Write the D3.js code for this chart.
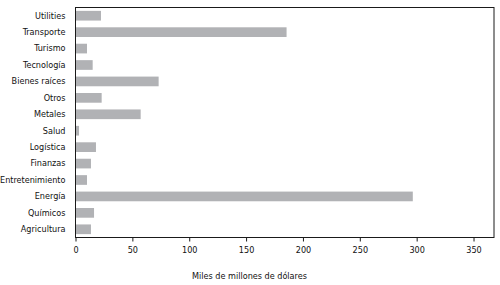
<!DOCTYPE html>
<html>
<head>
<meta charset="utf-8">
<script src="https://cdn.jsdelivr.net/npm/d3@7"></script>
<style>
  body { margin: 0; background: #fff; }
  text { font-family: "DejaVu Sans Condensed", "DejaVu Sans", sans-serif; fill: #111; }
</style>
</head>
<body>
<div class="chart"></div>
<script>
// data ------------------------------------------------
var sectors = ["Utilities", "Transporte", "Turismo", "Tecnología", "Bienes raíces", "Otros",
  "Metales", "Salud", "Logística", "Finanzas", "Entretenimiento", "Energía", "Químicos", "Agricultura"];
var values = [22.4, 185.6, 10.1, 15.1, 73.1, 23, 57.3, 3.1, 18, 13.6, 10.1, 296.6, 16.3, 13.6];
var xTicks = [0, 50, 100, 150, 200, 250, 300, 350];
var xTitle = "Miles de millones de dólares";

// svg setup -------------------------------------------
var svgWidth = 500;
var svgHeight = 285;
var margin = {top: 7.5, right: 6, bottom: 47.5, left: 75.5};
var chartWidth = svgWidth - margin.left - margin.right;
var chartHeight = svgHeight - margin.top - margin.bottom;
var fontFamily = "'DejaVu Sans Condensed', 'DejaVu Sans', sans-serif";

var svg = d3.select(".chart")
  .append("svg")
  .attr("width", svgWidth)
  .attr("height", svgHeight);

var chartGroup = svg.append("g")
  .attr("transform", `translate(${margin.left}, ${margin.top})`);

// scales
var xScale = d3.scaleLinear()
  .domain([0, 368])
  .range([0, chartWidth]);

var yScale = d3.scaleBand()
  .domain(sectors)
  .range([0, chartHeight])
  .paddingInner(0.41)
  .paddingOuter(0.205);

// bars
chartGroup.selectAll("rect.bar")
  .data(sectors)
  .enter()
  .append("rect")
  .attr("class", "bar")
  .attr("x", 0)
  .attr("y", d => yScale(d))
  .attr("width", (d, i) => xScale(values[i]))
  .attr("height", yScale.bandwidth())
  .attr("fill", "#b1b2b5");

// frame
chartGroup.append("rect")
  .attr("x", 0)
  .attr("y", 0)
  .attr("width", chartWidth)
  .attr("height", chartHeight)
  .attr("fill", "none")
  .attr("stroke", "#1a1a1a")
  .attr("stroke-width", 1);

// x axis
var bottomAxis = d3.axisBottom(xScale)
  .tickValues(xTicks)
  .tickSize(4)
  .tickSizeOuter(0);

var xAxis = chartGroup.append("g")
  .attr("transform", `translate(0, ${chartHeight})`)
  .call(bottomAxis);
xAxis.select(".domain").remove();
xAxis.selectAll("line").attr("stroke", "#1a1a1a");
xAxis.selectAll("text")
  .attr("y", 9)
  .style("font-size", "9px")
  .style("font-family", fontFamily)
  .attr("fill", "#111");

// y axis labels
var leftAxis = d3.axisLeft(yScale)
  .tickSize(0)
  .tickPadding(10);
var yAxis = chartGroup.append("g").call(leftAxis);
yAxis.select(".domain").remove();
yAxis.selectAll("text")
  .style("font-size", "9px")
  .style("font-family", fontFamily)
  .attr("fill", "#111");

// x title
svg.append("text")
  .attr("x", 249.5)
  .attr("y", 279)
  .attr("text-anchor", "middle")
  .style("font-size", "9px")
  .text(xTitle);
</script>
</body>
</html>
